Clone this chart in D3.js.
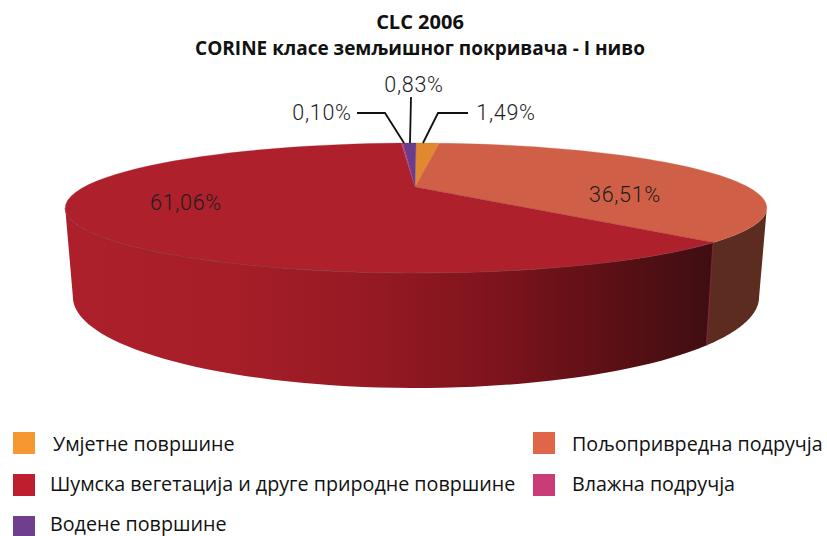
<!DOCTYPE html>
<html>
<head>
<meta charset="utf-8">
<script src="https://d3js.org/d3.v7.min.js"></script>
<style>
  html, body { margin: 0; padding: 0; background: #fff; }
  svg { display: block; }
</style>
</head>
<body>
<svg id="chart" width="827" height="536"></svg>
<script>
const titleLines = ["CLC 2006", "CORINE класе земљишног покривача - I ниво"];
const categories = ["Умјетне површине", "Пољопривредна подручја", "Шумска вегетација и друге природне површине", "Влажна подручја", "Водене површине"];
const shares = [1.49, 36.51, 61.06, 0.10, 0.83];
const shareLabels = ["1,49%", "36,51%", "61,06%", "0,10%", "0,83%"];
const topColors = ["#e0892e", "#cf6047", "#ae202c", "#c43c78", "#693d8a"];
const legendColors = ["#f7972f", "#e0664a", "#be1e2d", "#c93c76", "#6f3f8d"];

const svg = d3.select("#chart");
const FONT_TEXT = "'Open Sans', 'Noto Sans', sans-serif";
const FONT_LABEL = "Roboto, 'Liberation Sans', sans-serif";

// the pie is a circle seen in perspective, so the centre sits above the middle of the ellipse
const tilt = 0.323;
const topDisc = { cx: 416, cy: 187, a: 332, b: 58.2 };
const bottomDisc = { cx: 416, cy: 267.6, a: 324.7, b: 81.5 };

function rimPoint(disc, deg) {
    var t = deg * Math.PI / 180;
    var x = Math.sin(t), y = -Math.cos(t);
    var d = 1 - tilt * y;
    return [disc.cx + disc.a * x / d, disc.cy + disc.b * y / d];
}

function rimPoints(disc, from, to) {
    return d3.range(0, 61).map(function (i) {
        return rimPoint(disc, from + (to - from) * i / 60);
    });
}

const slices = d3.pie().sort(null).value(function (d) { return d; })(shares).map(function (s, i) {
    return { index: i, from: s.startAngle * 180 / Math.PI, to: s.endAngle * 180 / Math.PI };
});

const line = d3.line();

// wall shading
const wallGradient = svg.append("defs").append("linearGradient")
    .attr("id", "wallRed")
    .attr("gradientUnits", "userSpaceOnUse")
    .attr("x1", 65).attr("x2", 712).attr("y1", 0).attr("y2", 0);
[[0, "#ad202b"], [0.25, "#a61e28"], [0.45, "#981a24"], [0.65, "#80141d"], [0.82, "#601016"], [1, "#3e0e12"]].forEach(function (s) {
    wallGradient.append("stop").attr("offset", s[0]).attr("stop-color", s[1]);
});

// side wall, only the front part of the rim shows
const wallFrom = 180 - Math.acos(tilt) * 180 / Math.PI;
const wallTo = 360 - wallFrom;
const wallFills = { 1: "#5d2c20", 2: "url(#wallRed)" };

slices.filter(function (s) { return wallFills[s.index]; }).forEach(function (s) {
    var from = Math.max(s.from, wallFrom), to = Math.min(s.to, wallTo);
    svg.append("path")
        .attr("d", line(rimPoints(topDisc, from, to).concat(rimPoints(bottomDisc, from, to).reverse())) + "Z")
        .attr("fill", wallFills[s.index]);
});

// seam between the two walls
const seam = slices[1].to;
svg.append("path")
    .attr("d", line([rimPoint(topDisc, seam), rimPoint(bottomDisc, seam)]))
    .attr("stroke", "#7a2530").attr("stroke-width", 1.5).attr("fill", "none");

// top surface
slices.forEach(function (s) {
    svg.append("path")
        .attr("d", line([[topDisc.cx - 1, topDisc.cy]].concat(rimPoints(topDisc, s.from, s.to))) + "Z")
        .attr("fill", topColors[s.index])
        .attr("stroke", topColors[s.index])
        .attr("stroke-width", 0.3);
});

// faint edge where the red top meets its wall
svg.append("path")
    .attr("d", line(rimPoints(topDisc, slices[2].from, wallTo)))
    .attr("fill", "none").attr("stroke", "#8c3338").attr("stroke-width", 0.8);

// leader lines
const leaders = [
    [[468, 113], [438, 113], [423, 143]],
    [[357, 113], [385, 113], [404, 143]],
    [[411, 97], [410, 143]]
];
leaders.forEach(function (l) {
    svg.append("path").attr("d", line(l)).attr("fill", "none").attr("stroke", "#111").attr("stroke-width", 1.8);
});

// value labels
const labelPos = [[506, 120], [625, 202], [186, 210], [322, 120], [414, 92]];
shareLabels.forEach(function (txt, i) {
    svg.append("text")
        .attr("x", labelPos[i][0]).attr("y", labelPos[i][1])
        .attr("text-anchor", "middle")
        .attr("font-family", FONT_LABEL)
        .attr("font-weight", 300)
        .attr("font-size", 21.5)
        .attr("letter-spacing", 0.7)
        .attr("fill", "#1d1d1d")
        .text(txt);
});

// title
titleLines.forEach(function (txt, i) {
    svg.append("text")
        .attr("x", 420).attr("y", 29 + i * 26)
        .attr("text-anchor", "middle")
        .attr("font-family", FONT_TEXT)
        .attr("font-weight", 700)
        .attr("font-size", i === 0 ? 20 : 19)
        .attr("fill", "#111")
        .text(txt);
});

// legend
const legendPos = [
    { box: [13, 432], text: [53, 451] },
    { box: [533, 432], text: [572, 451] },
    { box: [13, 474], text: [50, 491] },
    { box: [533, 474], text: [572, 491] },
    { box: [13, 516], text: [50, 531] }
];
categories.forEach(function (name, i) {
    svg.append("rect")
        .attr("x", legendPos[i].box[0]).attr("y", legendPos[i].box[1])
        .attr("width", 22).attr("height", 22)
        .attr("fill", legendColors[i]);
    svg.append("text")
        .attr("x", legendPos[i].text[0]).attr("y", legendPos[i].text[1])
        .attr("font-family", FONT_TEXT)
        .attr("font-size", 19.7)
        .attr("fill", "#111")
        .text(name);
});
</script>
</body>
</html>
